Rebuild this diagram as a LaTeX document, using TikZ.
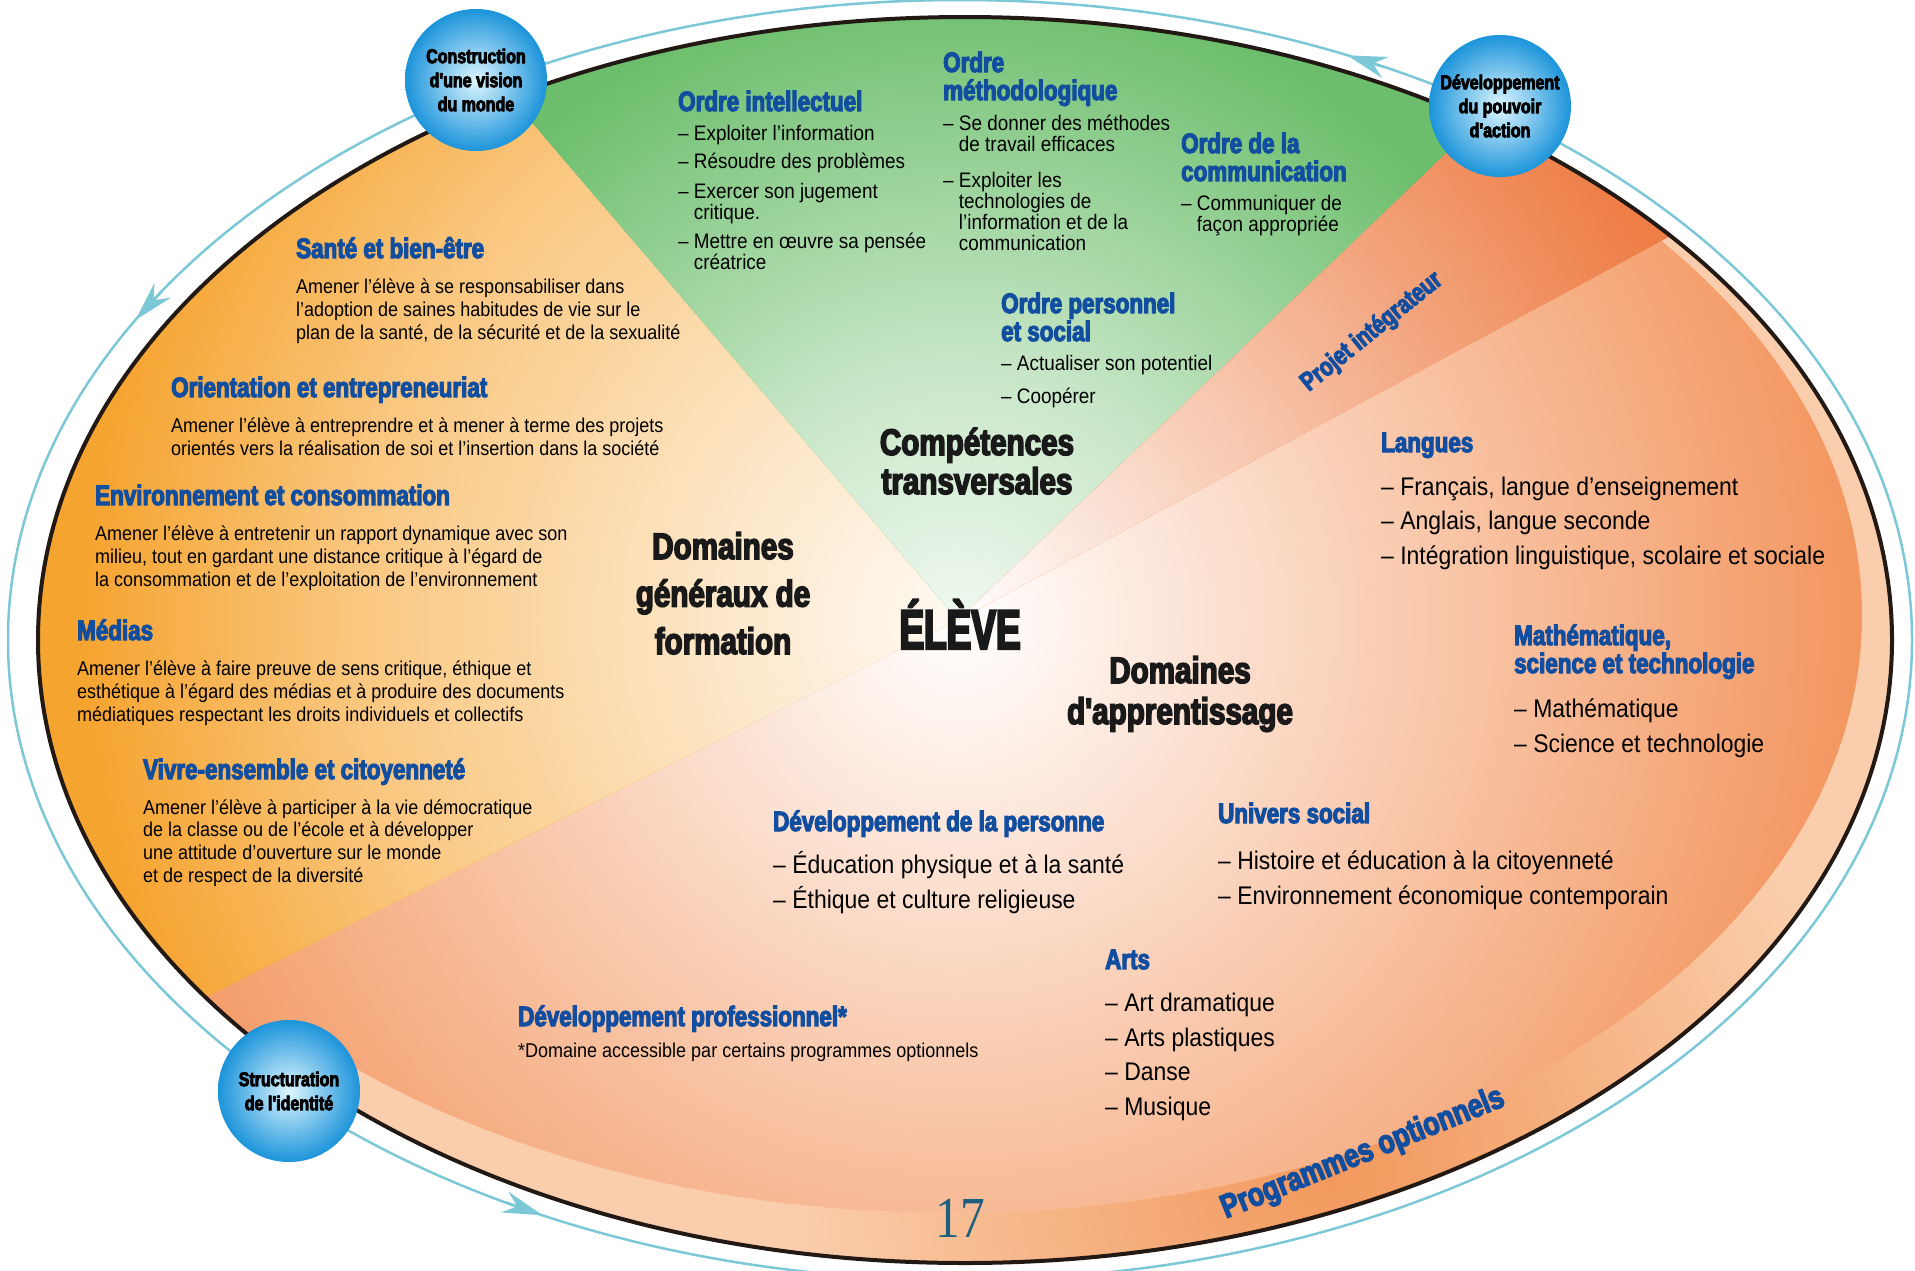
\documentclass[tikz,border=0pt]{standalone}
\usepackage{fontspec}
\setmainfont{Liberation Sans}[FakeStretch=0.9]
\newfontfamily\lourd{Liberation Sans Bold}[FakeStretch=0.8,FakeBold=4]
\newfontfamily\eleve{Liberation Sans Bold}[FakeStretch=0.66,FakeBold=4]
\newfontfamily\chiffre{Liberation Serif}[FakeStretch=0.85]
\usetikzlibrary{positioning,arrows.meta}

\definecolor{vertcomp}{RGB}{108,190,108}
\definecolor{orgen}{RGB}{246,164,48}
\definecolor{saumon}{RGB}{243,148,92}
\definecolor{projet}{RGB}{238,126,70}
\definecolor{bandeclair}{RGB}{250,206,172}
\definecolor{bandefonce}{RGB}{242,152,92}
\definecolor{bleutitre}{RGB}{18,78,160}
\definecolor{cyanligne}{RGB}{125,200,215}
\definecolor{bulleclair}{RGB}{222,246,255}
\definecolor{bullefonce}{RGB}{28,148,218}
\definecolor{numero}{RGB}{30,95,125}
\definecolor{contour}{RGB}{35,25,20}

\pgfdeclareradialshading{ombredgf}{\pgfpointorigin}{color(0bp)=(orgen!6!white); color(6bp)=(orgen!25!white); color(16bp)=(orgen!62!white); color(23bp)=(orgen); color(50bp)=(orgen)}
\pgfdeclareradialshading{ombrevert}{\pgfpointorigin}{color(0bp)=(vertcomp!10!white); color(10bp)=(vertcomp!38!white); color(25bp)=(vertcomp); color(50bp)=(vertcomp)}

\newcommand{\tiret}{–\ }
\newcommand{\retrait}{\phantom{–\ }}

\begin{document}
\begin{tikzpicture}[x=1pt, y=-1pt,
        bulle/.style={circle, minimum size=142pt, inner sep=0pt, inner color=bulleclair, outer color=bullefonce, align=center, font=\lourd\fontsize{20}{24}\selectfont},
        titre/.style={anchor=base west, inner sep=0pt, align=left, text=bleutitre, font=\lourd\fontsize{28}{28}\selectfont},
        texte/.style={anchor=base west, inner sep=0pt, align=left, text=black, font=\fontsize{20}{22.6}\selectfont},
        puce/.style={anchor=base west, inner sep=0pt, align=left, text=black, font=\fontsize{21}{21}\selectfont},
        liste/.style={anchor=base west, inner sep=0pt, align=left, text=black, font=\fontsize{25.5}{34.5}\selectfont},
        grand/.style={anchor=base, inner sep=0pt, align=center, text=black!90, font=\lourd\fontsize{37}{47.5}\selectfont},
        fleche/.style={draw=cyanligne, line width=2.5pt, -{Stealth[length=40pt,width=22pt]}},
        ]
        \fill[white] (0,0) rectangle (1915,1270);
        \useasboundingbox (0,0) rectangle (1915,1270);

        %Zones
        \coordinate (apex) at (958,620);
        \coordinate (gl) at (112,-368);
        \coordinate (gr) at (1954,-332);
        \coordinate (pr) at (2368,-140);
        \coordinate (bl) at (-518,1360);

        \begin{scope}
            \clip (965,640) ellipse (927 and 623);
            \fill[saumon] (-100,-100) rectangle (2100,1400);
            \shade[inner color=white, outer color=saumon] (apex) circle (920);
            % bande du bas (anneau)
            \begin{scope}
                \clip (300,-100) rectangle (2100,1400);
                \clip (965,640) ellipse (927 and 623) (1862,615) arc[start angle=0, end angle=-360, x radius=912, y radius=598];
                \fill[bandeclair] (-100,-100) rectangle (2100,1400);
                \shade[inner color=bandefonce, outer color=bandeclair] (1330,1170) circle (540);
            \end{scope}
            \begin{scope}
                \clip (apex) -- (gl) -- (-600,-400) -- (-600,1400) -- (bl) -- cycle;
                \fill[orgen] (-100,-100) rectangle (2100,1400);
                \shade[shading=ombredgf] (apex) circle (950);
            \end{scope}
            \begin{scope}
                \clip (apex) -- (gl) -- (gr) -- cycle;
                \fill[vertcomp] (-100,-100) rectangle (2100,1400);
                \shade[shading=ombrevert] (apex) circle (640);
            \end{scope}
            \begin{scope}
                \clip (apex) -- (gr) -- (pr) -- cycle;
                \fill[projet] (-100,-100) rectangle (2100,1400);
                \shade[inner color=white, outer color=projet] (apex) circle (780);
            \end{scope}
        \end{scope}
        \draw[contour, line width=4pt] (965,640) ellipse (927 and 623);

        %Cycle
        \draw[cyanligne, line width=2.5pt] (960,640) ellipse (952 and 640);
        \coordinate (f1a) at ({960+952*cos(63.5)},{640-640*sin(63.5)});
        \coordinate (f1b) at ({960+952*cos(66)},{640-640*sin(66)});
        \coordinate (f2a) at ({960+952*cos(147)},{640-640*sin(147)});
        \coordinate (f2b) at ({960+952*cos(150)},{640-640*sin(150)});
        \coordinate (f3a) at ({960+952*cos(241.5)},{640-640*sin(241.5)});
        \coordinate (f3b) at ({960+952*cos(244)},{640-640*sin(244)});
        \draw[fleche] (f1a) -- (f1b);
        \draw[fleche] (f2a) -- (f2b);
        \draw[fleche] (f3a) -- (f3b);

        \node[bulle] (vision) at (476,80) {Construction\\d'une vision\\du monde};
        \node[bulle] (pouvoir) at (1500,106) {Développement\\du pouvoir\\d'action};
        \node[bulle] (identite) at (289,1091) {Structuration\\de l'identité};

        %Domaines generaux de formation (multi-line nodes: last baseline)
        \node[titre] (sante) at (296,258) {Santé et bien-être};
        \node[texte] (santetxt) at (296,339) {Amener l'élève à se responsabiliser dans\\l'adoption de saines habitudes de vie sur le\\plan de la santé, de la sécurité et de la sexualité};
        \node[titre] (orient) at (171,397) {Orientation et entrepreneuriat};
        \node[texte] (orienttxt) at (171,455) {Amener l'élève à entreprendre et à mener à terme des projets\\orientés vers la réalisation de soi et l'insertion dans la société};
        \node[titre] (envir) at (95,505) {Environnement et consommation};
        \node[texte] (envirtxt) at (95,586) {Amener l'élève à entretenir un rapport dynamique avec son\\milieu, tout en gardant une distance critique à l'égard de\\la consommation et de l'exploitation de l'environnement};
        \node[titre] (medias) at (77,640) {Médias};
        \node[texte] (mediastxt) at (77,721) {Amener l'élève à faire preuve de sens critique, éthique et\\esthétique à l'égard des médias et à produire des documents\\médiatiques respectant les droits individuels et collectifs};
        \node[titre] (vivre) at (143,779) {Vivre-ensemble et citoyenneté};
        \node[texte] (vivretxt) at (143,882) {Amener l'élève à participer à la vie démocratique\\de la classe ou de l'école et à développer\\une attitude d'ouverture sur le monde\\et de respect de la diversité};
        \node[grand] (dgf) at (723,654) {Domaines\\généraux de\\formation};

        %Competences transversales
        \node[titre] (intel) at (678,111) {Ordre intellectuel};
        \node[puce] (intel1) at (678,140) {\tiret Exploiter l'information};
        \node[puce] (intel2) at (678,168) {\tiret Résoudre des problèmes};
        \node[puce] (intel3) at (678,219) {\tiret Exercer son jugement\\\retrait critique.};
        \node[puce] (intel4) at (678,269) {\tiret Mettre en œuvre sa pensée\\\retrait créatrice};
        \node[titre] (metho) at (943,100) {Ordre\\méthodologique};
        \node[puce] (metho1) at (943,151) {\tiret Se donner des méthodes\\\retrait de travail efficaces};
        \node[puce] (metho2) at (943,250) {\tiret Exploiter les\\\retrait technologies de\\\retrait l'information et de la\\\retrait communication};
        \node[titre] (comm) at (1181,181) {Ordre de la\\communication};
        \node[puce] (comm1) at (1181,231) {\tiret Communiquer de\\\retrait façon appropriée};
        \node[titre] (perso) at (1001,341) {Ordre personnel\\et social};
        \node[puce] (perso1) at (1001,370) {\tiret Actualiser son potentiel};
        \node[puce] (perso2) at (1001,403) {\tiret Coopérer};
        \node[grand, font=\lourd\fontsize{37}{39}\selectfont] (ct) at (977,494) {Compétences\\transversales};

        \node[inner sep=0pt, anchor=base, text=black!90, font=\eleve\fontsize{56}{56}\selectfont] (eleve) at (960,649) {ÉLÈVE};

        %Domaines d'apprentissage
        \node[titre, anchor=center, rotate=39, font=\lourd\fontsize{26}{26}\selectfont] (projint) at (1372,332) {Projet intégrateur};
        \node[titre] (langues) at (1381,452) {Langues};
        \node[liste] (languesl) at (1381,564) {\tiret Français, langue d'enseignement\\\tiret Anglais, langue seconde\\\tiret Intégration linguistique, scolaire et sociale};
        \node[titre] (math) at (1514,673) {Mathématique,\\science et technologie};
        \node[liste] (mathl) at (1514,752) {\tiret Mathématique\\\tiret Science et technologie};
        \node[grand, font=\lourd\fontsize{37}{41}\selectfont] (da) at (1180,724) {Domaines\\d'apprentissage};
        \node[titre] (devpers) at (773,831) {Développement de la personne};
        \node[liste] (devpersl) at (773,908) {\tiret Éducation physique et à la santé\\\tiret Éthique et culture religieuse};
        \node[titre] (univers) at (1218,823) {Univers social};
        \node[liste] (universl) at (1218,904) {\tiret Histoire et éducation à la citoyenneté\\\tiret Environnement économique contemporain};
        \node[titre] (arts) at (1105,969) {Arts};
        \node[liste] (artsl) at (1105,1115) {\tiret Art dramatique\\\tiret Arts plastiques\\\tiret Danse\\\tiret Musique};
        \node[titre] (devpro) at (518,1026) {Développement professionnel*};
        \node[texte] (note) at (518,1057) {*Domaine accessible par certains programmes optionnels};
        \node[titre, anchor=center, rotate=22, font=\lourd\fontsize{33}{33}\selectfont] (progopt) at (1363,1154) {Programmes optionnels};

        \node[inner sep=0pt, text=numero, font=\chiffre\fontsize{58}{58}\selectfont] (page) at (960,1218) {17};
    \end{tikzpicture}
\end{document}
